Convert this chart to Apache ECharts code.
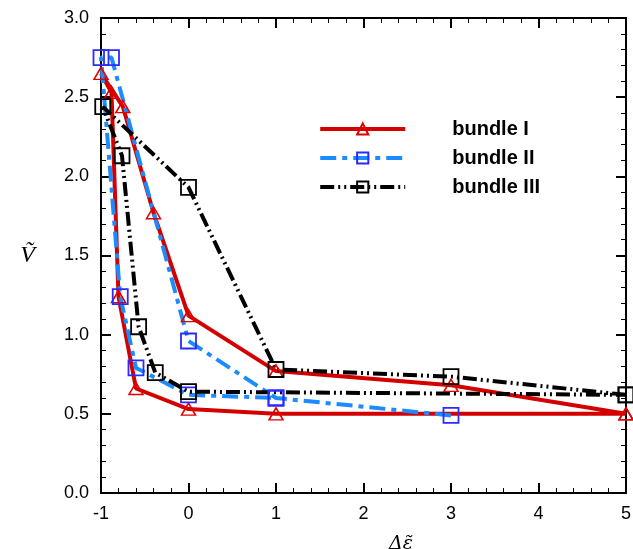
<!doctype html>
<html>
<head>
<meta charset="UTF-8">
<title>bundle chart</title>
<script src="https://cdn.jsdelivr.net/npm/echarts@6/dist/echarts.min.js"></script>
<style>
    html, body { margin: 0; padding: 0; background: #fff; }
    #chart { width: 633px; height: 549px; }
</style>
</head>
<body>
<div id="chart"></div>
<script>
    // data (each bundle traces a loop)
    const bundle1X = [5, 3, 1, 0, -0.4, -0.75, -1, -0.88, -0.8, -0.6, 0, 1, 5];
    const bundle1Y = [0.50, 0.68, 0.77, 1.12, 1.77, 2.44, 2.65, 2.53, 1.24, 0.66, 0.53, 0.50, 0.50];

    const bundle2X = [3, 1, 0, -0.88, -1, -0.78, -0.6, 0, 1];
    const bundle2Y = [0.49, 0.60, 0.96, 2.75, 2.75, 1.24, 0.79, 0.62, 0.60];

    const bundle3X = [5, 3, 1, 0, -0.98, -0.76, -0.57, -0.38, 0, 5];
    const bundle3Y = [0.62, 0.735, 0.78, 1.93, 2.44, 2.13, 1.05, 0.76, 0.64, 0.62];

    const seriesNames = ['bundle I', 'bundle II', 'bundle III'];
    const xTicks = [-1, 0, 1, 2, 3, 4, 5];
    const yTicks = [0, 0.5, 1, 1.5, 2, 2.5, 3];

    const pairs = (xs, ys) => xs.map((x, i) => [x, ys[i]]);

    const chart = echarts.init(document.getElementById('chart'));

    const frameAxis = {
        axisLine: { show: true, onZero: false, lineStyle: { color: '#000', width: 2 } },
        axisTick: { show: true, inside: true, length: 10, lineStyle: { color: '#000', width: 2 } },
        minorTick: { show: true, splitNumber: 5, length: 5, lineStyle: { color: '#000', width: 1 } },
        splitLine: { show: false }
    };

    chart.setOption({
        animation: false,
        grid: { left: 101, right: 7, top: 18, bottom: 56, outerBoundsMode: 'none', containLabel: false },
        legend: {
            right: 88, top: 114,
            orient: 'vertical',
            itemWidth: 85, itemHeight: 14, itemGap: 9,
            lineStyle: { width: 4 },
            textStyle: { fontFamily: 'Liberation Sans, Arial', fontWeight: 'bold', fontSize: 20, color: '#000', padding: [0, 0, 0, 42] },
            data: seriesNames
        },
        xAxis: [
            Object.assign({
                type: 'value', min: xTicks[0], max: xTicks[xTicks.length - 1], interval: 1,
                name: 'Δε̃', nameLocation: 'middle', nameGap: 42,
                nameTextStyle: { fontFamily: 'DejaVu Serif', fontStyle: 'italic', fontSize: 19, color: '#000', padding: [0, 0, 0, 75] },
                axisLabel: { fontFamily: 'Liberation Sans, Arial', fontSize: 18, color: '#000', margin: 12 }
            }, frameAxis),
            Object.assign({
                type: 'value', position: 'top', min: xTicks[0], max: xTicks[xTicks.length - 1], interval: 1,
                axisLabel: { show: false }
            }, frameAxis)
        ],
        yAxis: [
            Object.assign({
                type: 'value', min: yTicks[0], max: yTicks[yTicks.length - 1], interval: 0.5,
                name: 'Ṽ', nameLocation: 'middle', nameGap: 66, nameRotate: 0,
                nameTextStyle: { fontFamily: 'Liberation Serif, DejaVu Serif', fontStyle: 'italic', fontSize: 24, color: '#000', padding: [28, 0, 0, 0] },
                axisLabel: { fontFamily: 'Liberation Sans, Arial', fontSize: 18, color: '#000', margin: 12,
                    formatter: v => v.toFixed(1) }
            }, frameAxis),
            Object.assign({
                type: 'value', position: 'right', min: yTicks[0], max: yTicks[yTicks.length - 1], interval: 0.5,
                axisLabel: { show: false }
            }, frameAxis)
        ],
        series: [
            {
                name: seriesNames[0], type: 'line', data: pairs(bundle1X, bundle1Y),
                symbol: 'triangle', symbolSize: [14, 12],
                lineStyle: { color: '#d40000', width: 4, type: 'solid' },
                itemStyle: { color: 'rgba(255,255,255,0)', borderColor: '#e00000', borderWidth: 1.5 }
            },
            {
                name: seriesNames[1], type: 'line', data: pairs(bundle2X, bundle2Y),
                symbol: 'rect', symbolSize: 15,
                lineStyle: { color: '#1a8cff', width: 4, type: [16, 6, 5, 6] },
                itemStyle: { color: 'rgba(255,255,255,0)', borderColor: '#2b2bff', borderWidth: 1.8 }
            },
            {
                name: seriesNames[2], type: 'line', data: pairs(bundle3X, bundle3Y),
                symbol: 'rect', symbolSize: 15,
                lineStyle: { color: '#000', width: 4, type: [14, 4, 2, 4, 2, 4] },
                itemStyle: { color: 'rgba(255,255,255,0)', borderColor: '#000', borderWidth: 1.8 }
            }
        ]
    });
</script>
</body>
</html>
